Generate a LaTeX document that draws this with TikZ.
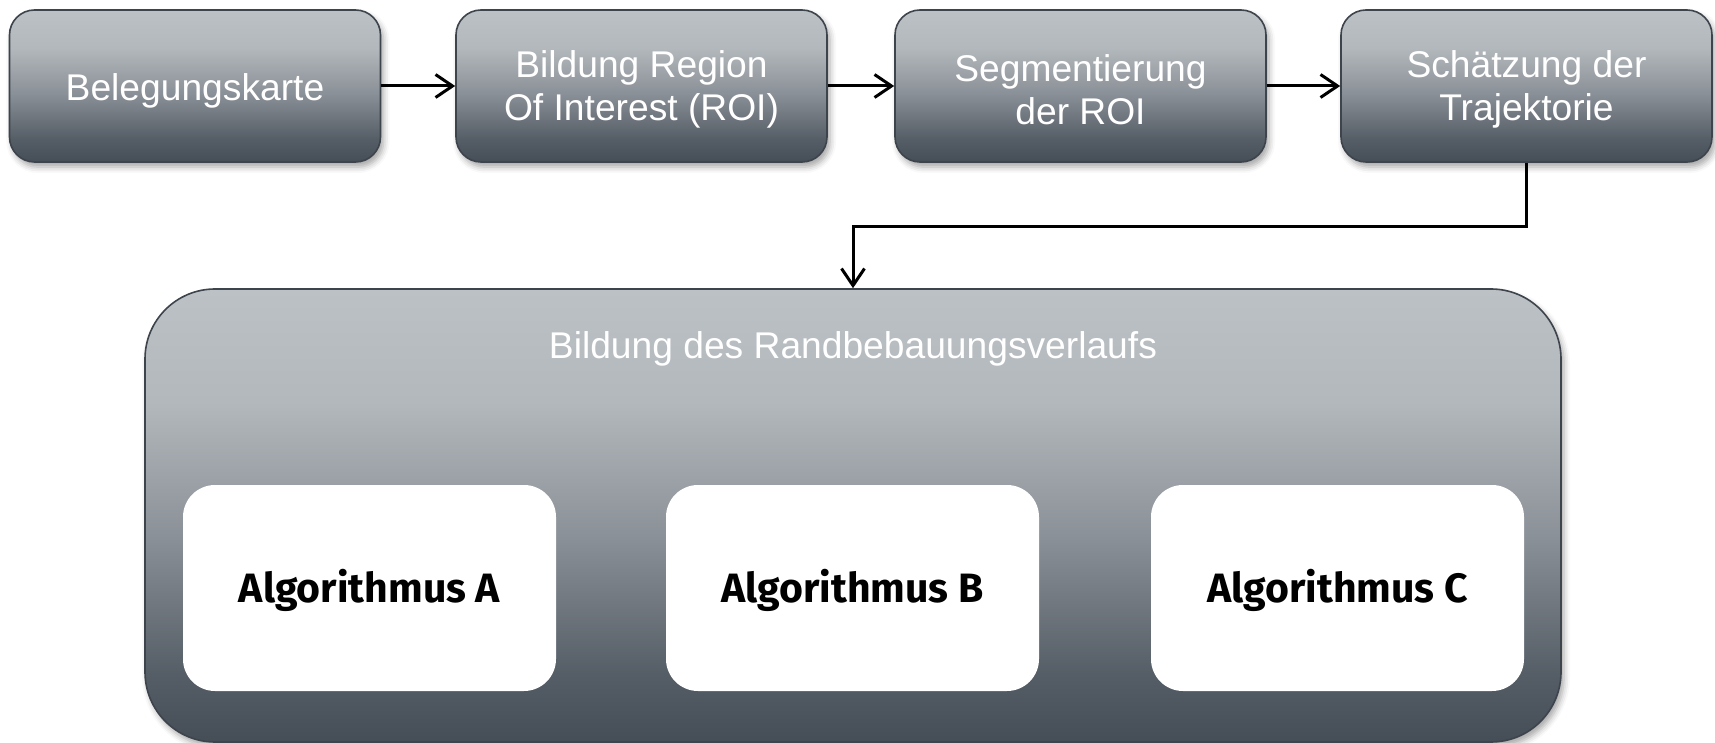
\documentclass[tikz,border=0pt]{standalone}
\usepackage{fontspec}
\setmainfont{Liberation Sans}
\newfontfamily\algofont{Fira Sans}
\usetikzlibrary{arrows.meta,shadows.blur}

\definecolor{glight}{HTML}{BCC1C5}
\definecolor{gupper}{HTML}{B3B8BC}
\definecolor{gmid}{HTML}{8A9097}
\definecolor{glower}{HTML}{555D66}
\definecolor{gdark}{HTML}{454D57}
\definecolor{rim}{HTML}{3D444C}

% grey panel gradient: light on top, dark at the bottom
\pgfdeclareverticalshading{panel}{100bp}{%
  color(0bp)=(gdark); color(25bp)=(gdark); color(32.5bp)=(glower);
  color(47.5bp)=(gmid); color(62.5bp)=(gupper); color(75bp)=(glight);
  color(100bp)=(glight)}

% lower a line of text without changing its box
\newcommand\lowerby[2]{\raisebox{-#1}[\height][\depth]{#2}}

\tikzset{
  panelbox/.style={draw=rim, line width=0.8pt, shading=panel,
    blur shadow={shadow xshift=1.5pt, shadow yshift=-2.5pt,
      shadow blur radius=3pt, shadow opacity=35},
    text=white, font=\fontsize{18.6}{21.5}\selectfont, align=center},
  stepbox/.style={panelbox, rounded corners=12.5pt,
    minimum width=185.5pt, minimum height=76pt, inner sep=0pt},
  algobox/.style={fill=white, rounded corners=16pt, draw=none,
    minimum width=186.5pt, minimum height=103pt, inner sep=0pt,
    font=\algofont\bfseries\fontsize{20.5}{24}\selectfont},
  arr/.style={draw=black, line width=1.5pt,
    -{Straight Barb[length=8.5pt, width=11.5pt]}}
}

\begin{document}
\begin{tikzpicture}[x=0.5pt, y=-0.5pt]
  \path[use as bounding box] (0,0) rectangle (1715,743);

  % processing chain
  \node[stepbox] (s1) at (195,86) {\lowerby{2.2pt}{Belegungskarte}};
  \node[stepbox] (s2) at (641.5,86)
    {\lowerby{1.8pt}{Bildung Region}\\\lowerby{1.8pt}{Of Interest (ROI)}};
  \node[stepbox] (s3) at (1080.5,86)
    {\lowerby{1.8pt}{Segmentierung}\\\lowerby{1.8pt}{der ROI}};
  \node[stepbox] (s4) at (1526.5,86)
    {\lowerby{1.8pt}{Schätzung der}\\\lowerby{1.8pt}{Trajektorie}};

  % container with the three algorithms
  \node[panelbox, rounded corners=35pt, minimum width=708pt,
    minimum height=226.5pt, inner sep=0pt] (big) at (853,515.5) {};
  \node[text=white, font=\fontsize{18.6}{21.5}\selectfont, anchor=base]
    (title) at (853,359) {Bildung des Randbebauungsverlaufs};

  \node[algobox] (a) at (369.5,588) {\lowerby{1.4pt}{Algorithmus A}};
  \node[algobox] (b) at (852.5,588) {\lowerby{1.4pt}{Algorithmus B}};
  \node[algobox] (c) at (1337.5,588) {\lowerby{1.4pt}{Algorithmus C}};

  % connectors
  \draw[arr] (s1) -- (s2);
  \draw[arr] (s2) -- (s3);
  \draw[arr] (s3) -- (s4);
  \draw[arr] (s4.south) -- ++(0,64) -| (big.north);
\end{tikzpicture}
\end{document}
